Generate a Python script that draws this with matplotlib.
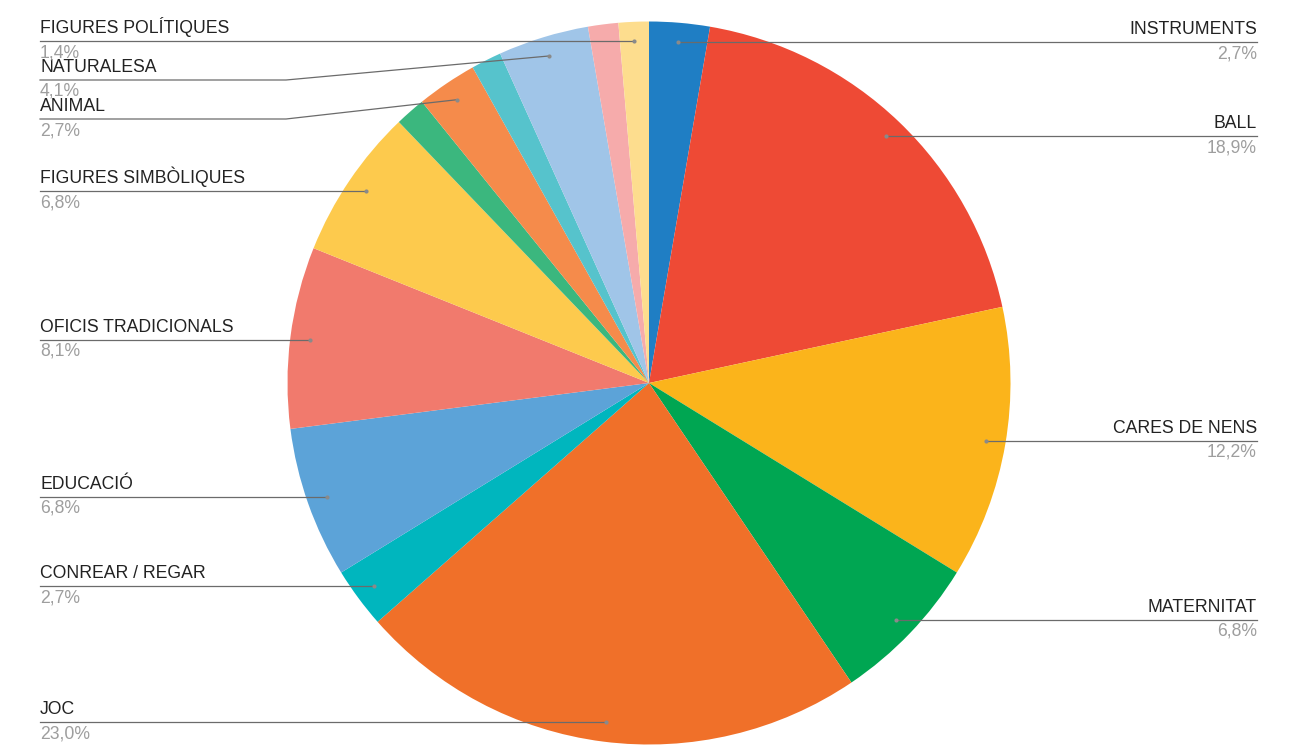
import numpy as np
import matplotlib.pyplot as plt

W, H = 1298, 749

# data (counts, clockwise from 12 o'clock)
categories = ["INSTRUMENTS", "BALL", "CARES DE NENS", "MATERNITAT", "JOC",
              "CONREAR / REGAR", "EDUCACIÓ", "OFICIS TRADICIONALS",
              "FIGURES SIMBÒLIQUES", "", "ANIMAL", "", "NATURALESA", "",
              "FIGURES POLÍTIQUES"]
counts = [2, 14, 9, 5, 17, 2, 5, 6, 5, 1, 2, 1, 3, 1, 1]
colors = ["#1f7ec4", "#ee4a35", "#fbb41b", "#00a652", "#f07029", "#00b6be",
          "#5ca3d8", "#f17a6d", "#fdca4d", "#3bb77e", "#f58b4b", "#56c3cc",
          "#a0c5e8", "#f6abab", "#fddd8e"]

# layout (pixels, y measured from top)
CX, CY, R = 649, 383, 361.5
ANCHOR_R = 342
LEFT_X, RIGHT_X = 40, 1257
ELBOW_X = 286
label_y_override = {"NATURALESA": 80, "ANIMAL": 119}

fig = plt.figure(figsize=(W / 100, H / 100), dpi=100)
ax = fig.add_axes([0, 0, 1, 1])

ax.pie(counts, colors=colors, startangle=90, counterclock=False,
       center=(CX, H - CY), radius=R, frame=True,
       wedgeprops=dict(linewidth=0))
ax.set_xlim(0, W)
ax.set_ylim(0, H)
ax.set_aspect("equal")
ax.axis("off")

total = sum(counts)
cum = np.cumsum([0] + counts)
font = ["Liberation Sans", "DejaVu Sans"]

for i, name in enumerate(categories):
    if not name:
        continue
    mid = (cum[i] + cum[i + 1]) / 2 / total * 2 * np.pi
    ax_x = CX + ANCHOR_R * np.sin(mid)
    ax_y = H - (CY - ANCHOR_R * np.cos(mid))
    pct = f"{counts[i] / total * 100:.1f}".replace(".", ",") + "%"
    right = ax_x > CX
    if name in label_y_override:
        ly = H - label_y_override[name]
        xs = [LEFT_X, ELBOW_X, ax_x]
        ys = [ly, ly, ax_y]
    else:
        ly = ax_y
        xs = [ax_x, RIGHT_X] if right else [LEFT_X, ax_x]
        ys = [ly, ly]
    ax.plot(xs, ys, color="#6b6b6b", lw=0.9, zorder=3)
    ax.plot(ax_x, ax_y, "o", ms=3, color="#8a8a8a", mec="none", zorder=4)
    tx = RIGHT_X if right else LEFT_X
    ha = "right" if right else "left"
    ax.text(tx, ly + 4, name, ha=ha, va="bottom", fontsize=12.7,
            color="#222222", family=font)
    ax.text(tx, ly - 3, pct, ha=ha, va="top", fontsize=12.7,
            color="#9e9e9e", family=font)

fig.savefig("out.png", dpi=100, facecolor="white")
